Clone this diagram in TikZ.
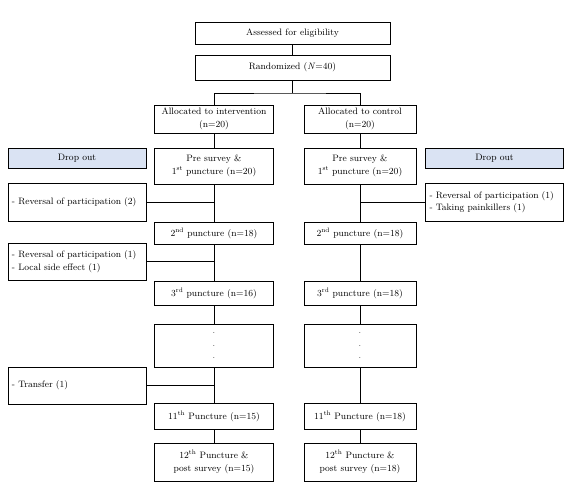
\documentclass[tikz,border=0pt]{standalone}
\usepackage{tikz}
\usepackage{amsmath}
\definecolor{dropblue}{RGB}{218,227,243}

\begin{document}
\begin{tikzpicture}[x=1pt, y=-1pt, line width=0.8pt,
		font=\fontsize{9.3}{12.5}\selectfont,
		box/.style={draw, rectangle, inner sep=2pt, align=center},
		leftbox/.style={box, minimum width=119pt},
		rightbox/.style={box, minimum width=112pt},
		dropbox/.style={draw, rectangle, fill=dropblue, minimum width=138pt, minimum height=20pt},
		reasonbox/.style={draw, rectangle, text width=130pt, inner xsep=4pt, align=left}]
				\useasboundingbox (0,0) rectangle (570,492);
				% top of the chart
				\node[box, minimum width=195pt, minimum height=22pt] (assess)at(292.5, 33) {Assessed for eligibility};
				\node[box, minimum width=195pt, minimum height=25pt] (rand)at(292.5, 67.5) {Randomized (\textit{N}=40)};
				\node[leftbox, minimum height=28pt] (allocI)at(214, 119) {Allocated to intervention\\(n=20)};
				\node[rightbox, minimum height=28pt] (allocC)at(360, 119) {Allocated to control\\(n=20)};
				\coordinate (split)at(292.5, 93);
				% drop out columns
				\node[dropbox] (dropI)at(77, 158) {Drop out};
				\node[dropbox] (dropC)at(494.5, 158) {Drop out};
				\node[reasonbox, minimum height=38pt] (outI1)at(77, 202) {- Reversal of participation (2)};
				\node[reasonbox, minimum height=38pt] (outC1)at(494.5, 202) {- Reversal of participation (1)\\- Taking painkillers (1)};
				\node[reasonbox, minimum height=37pt] (outI2)at(77, 261.5) {- Reversal of participation (1)\\- Local side effect (1)};
				\node[reasonbox, minimum height=37pt] (outI3)at(77, 385.5) {- Transfer (1)};
				% intervention
				\node[leftbox, minimum height=36pt] (preI)at(214, 166) {Pre survey \&\\1\textsuperscript{st} puncture (n=20)};
				\node[leftbox, minimum height=22pt] (p2I)at(214, 233) {2\textsuperscript{nd} puncture (n=18)};
				\node[leftbox, minimum height=24pt] (p3I)at(214, 293) {3\textsuperscript{rd} puncture (n=16)};
				\node[leftbox, minimum height=43pt] (dotsI)at(214, 345.5) {.\\.\\.};
				\node[leftbox, minimum height=26pt] (p11I)at(214, 416) {11\textsuperscript{th} Puncture (n=15)};
				\node[leftbox, minimum height=38pt] (p12I)at(214, 462) {12\textsuperscript{th} Puncture \&\\post survey (n=15)};
				% control
				\node[rightbox, minimum height=36pt] (preC)at(360, 166) {Pre survey \&\\1\textsuperscript{st} puncture (n=20)};
				\node[rightbox, minimum height=22pt] (p2C)at(360, 233) {2\textsuperscript{nd} puncture (n=18)};
				\node[rightbox, minimum height=24pt] (p3C)at(360, 293) {3\textsuperscript{rd} puncture (n=18)};
				\node[rightbox, minimum height=43pt] (dotsC)at(360, 345.5) {.\\.\\.};
				\node[rightbox, minimum height=26pt] (p11C)at(360, 416) {11\textsuperscript{th} Puncture (n=18)};
				\node[rightbox, minimum height=38pt] (p12C)at(360, 462) {12\textsuperscript{th} Puncture \&\\post survey (n=18)};
				\coordinate (jI1)at(214, 202);
				\coordinate (jC1)at(360, 202);
				\coordinate (jI2)at(214, 261.5);
				\coordinate (jI3)at(214, 385.5);
				\draw (assess) -- (rand);
				\draw (rand) -- (split);
				\draw (allocI) |- (split) -| (allocC);
				\draw (allocI) -- (preI);
				\draw (preI) -- (p2I);
				\draw (p2I) -- (p3I);
				\draw (p3I) -- (dotsI);
				\draw (dotsI) -- (p11I);
				\draw (p11I) -- (p12I);
				\draw (allocC) -- (preC);
				\draw (preC) -- (p2C);
				\draw (p2C) -- (p3C);
				\draw (p3C) -- (dotsC);
				\draw (dotsC) -- (p11C);
				\draw (p11C) -- (p12C);
				\draw (outI1) -- (jI1);
				\draw (outC1) -- (jC1);
				\draw (outI2) -- (jI2);
				\draw (outI3) -- (jI3);
			\end{tikzpicture}
\end{document}
